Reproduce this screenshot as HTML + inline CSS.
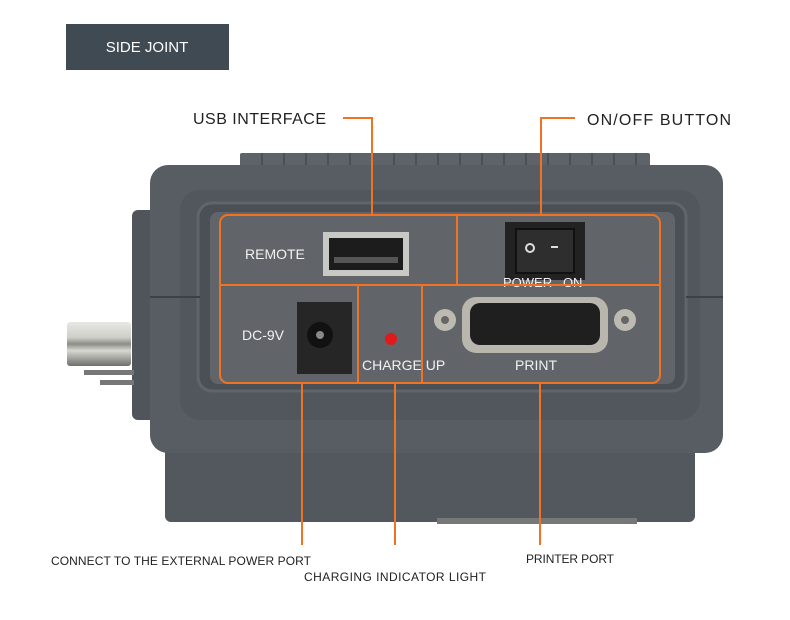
<!DOCTYPE html>
<html><head><meta charset="utf-8"><style>
body{margin:0;background:#fff;width:790px;height:615px;overflow:hidden;font-family:"Liberation Sans",sans-serif}
</style></head><body>
<svg width="790" height="615" viewBox="0 0 790 615" xmlns="http://www.w3.org/2000/svg">
<defs>
<linearGradient id="bnc" x1="0" y1="0" x2="0" y2="1">
<stop offset="0" stop-color="#e8e8e4"/><stop offset="0.35" stop-color="#cfcfc9"/><stop offset="0.5" stop-color="#8d8d88"/><stop offset="0.65" stop-color="#d8d8d2"/><stop offset="1" stop-color="#6e6e6a"/></linearGradient>
</defs>
<rect x="66" y="24" width="163" height="46" fill="#3f4a52"/>
<text x="147" y="52" fill="#fff" font-size="15" text-anchor="middle">SIDE JOINT</text>
<rect x="132" y="210" width="25" height="210" rx="6" fill="#4f555b"/>
<rect x="67" y="322" width="64" height="44" rx="3" fill="url(#bnc)"/>
<rect x="84" y="370" width="50" height="5" fill="#777"/>
<rect x="100" y="380" width="34" height="5" fill="#777"/>
<rect x="165" y="440" width="530" height="82" rx="6" fill="#52585e"/>
<rect x="437" y="518" width="200" height="6" fill="#777"/>
<rect x="240" y="153" width="410" height="14" rx="2" fill="#5d6369"/>
<g stroke="#4a5056" stroke-width="2">
<line x1="262" y1="153" x2="262" y2="167"/><line x1="284" y1="153" x2="284" y2="167"/><line x1="306" y1="153" x2="306" y2="167"/><line x1="328" y1="153" x2="328" y2="167"/><line x1="350" y1="153" x2="350" y2="167"/><line x1="372" y1="153" x2="372" y2="167"/><line x1="394" y1="153" x2="394" y2="167"/><line x1="416" y1="153" x2="416" y2="167"/><line x1="438" y1="153" x2="438" y2="167"/><line x1="460" y1="153" x2="460" y2="167"/><line x1="482" y1="153" x2="482" y2="167"/><line x1="504" y1="153" x2="504" y2="167"/><line x1="526" y1="153" x2="526" y2="167"/><line x1="548" y1="153" x2="548" y2="167"/><line x1="570" y1="153" x2="570" y2="167"/><line x1="592" y1="153" x2="592" y2="167"/><line x1="614" y1="153" x2="614" y2="167"/><line x1="636" y1="153" x2="636" y2="167"/>
</g>
<rect x="150" y="165" width="573" height="288" rx="18" fill="#575d63"/>
<rect x="180" y="190" width="520" height="230" rx="20" fill="#51575d"/>
<rect x="198" y="203" width="488" height="188" rx="14" fill="#4a5055" stroke="#5f656b" stroke-width="3"/>
<rect x="210" y="212" width="465" height="172" rx="8" fill="#616469"/>
<line x1="150" y1="297" x2="200" y2="297" stroke="#3c4146" stroke-width="2"/>
<line x1="686" y1="297" x2="723" y2="297" stroke="#3c4146" stroke-width="2"/>
<rect x="323" y="232" width="86" height="44" fill="#c8c8c4"/>
<rect x="329" y="238" width="74" height="32" fill="#1c1c1c"/>
<rect x="334" y="257" width="64" height="6" fill="#555"/>
<text x="245" y="259" fill="#f2f2f2" font-size="14">REMOTE</text>
<rect x="505" y="222" width="80" height="58" fill="#222"/>
<rect x="516" y="229" width="58" height="44" fill="#2e2e2e" stroke="#111" stroke-width="2"/>
<circle cx="530" cy="248" r="4" fill="none" stroke="#ddd" stroke-width="2"/>
<rect x="551" y="246" width="7" height="2" fill="#ddd"/>
<text x="503" y="287" fill="#f2f2f2" font-size="13" xml:space="preserve">POWER   ON</text>
<rect x="297" y="302" width="55" height="72" fill="#262626"/>
<circle cx="320" cy="335" r="13" fill="#111"/>
<circle cx="320" cy="335" r="4" fill="#888"/>
<text x="242" y="340" fill="#f2f2f2" font-size="14">DC-9V</text>
<circle cx="391" cy="339" r="6" fill="#e01a1a"/>
<text x="362" y="370" fill="#f2f2f2" font-size="14">CHARGE UP</text>
<rect x="462" y="297" width="146" height="56" rx="14" fill="#b9b6ad"/>
<rect x="470" y="303" width="130" height="42" rx="10" fill="#1f1f20"/>
<circle cx="445" cy="320" r="11" fill="#bdbab2"/><circle cx="445" cy="320" r="4" fill="#666"/>
<circle cx="625" cy="320" r="11" fill="#bdbab2"/><circle cx="625" cy="320" r="4" fill="#666"/>
<text x="515" y="370" fill="#f2f2f2" font-size="14">PRINT</text>
<g stroke="#f07323" stroke-width="2" fill="none">
<rect x="220" y="215" width="440" height="168" rx="8"/>
<line x1="220" y1="285" x2="660" y2="285"/>
<line x1="457" y1="215" x2="457" y2="285"/>
<line x1="358" y1="285" x2="358" y2="383"/>
<line x1="422" y1="285" x2="422" y2="383"/>
<polyline points="343,118 372,118 372,215"/>
<polyline points="575,118 541,118 541,215"/>
<line x1="302" y1="383" x2="302" y2="545"/>
<line x1="395" y1="383" x2="395" y2="545"/>
<line x1="540" y1="383" x2="540" y2="545"/>
</g>
<text x="193" y="124" fill="#222" font-size="16" textLength="133">USB INTERFACE</text>
<text x="587" y="125" fill="#222" font-size="16" textLength="144">ON/OFF BUTTON</text>
<text x="51" y="565" fill="#222" font-size="12" textLength="260">CONNECT TO THE EXTERNAL POWER PORT</text>
<text x="304" y="581" fill="#222" font-size="12" textLength="182">CHARGING INDICATOR LIGHT</text>
<text x="526" y="563" fill="#222" font-size="12" textLength="88">PRINTER PORT</text>
</svg>
</body></html>
